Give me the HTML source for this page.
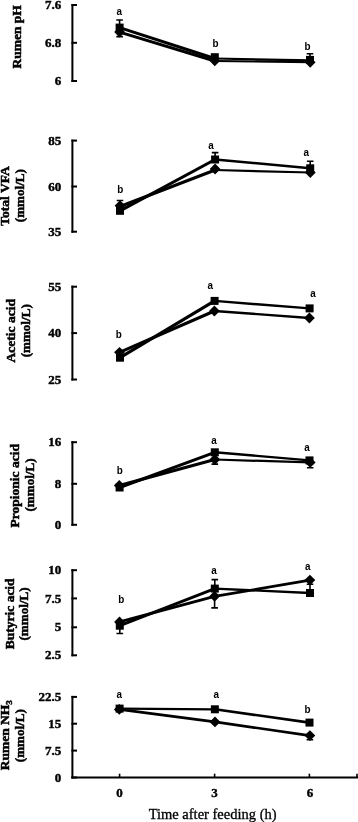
<!DOCTYPE html><html><head><meta charset="utf-8"><style>html,body{margin:0;padding:0;background:#fff;width:358px;height:822px;overflow:hidden}svg{display:block;filter:grayscale(1)}.t{font-family:"Liberation Serif",serif;font-weight:bold;font-size:13px;stroke:#000;stroke-width:0.4px}.y{font-family:"Liberation Serif",serif;font-weight:bold;font-size:13.5px;stroke:#000;stroke-width:0.5px}.l{font-family:"Liberation Sans",sans-serif;font-weight:bold;font-size:11px}.x{font-family:"Liberation Serif",serif;font-size:14.5px;stroke:#000;stroke-width:0.3px}</style></head><body>
<svg width="358" height="822" viewBox="0 0 358 822">
<rect width="358" height="822" fill="#fff"/>
<path d="M72.4 4V82" stroke="#000" stroke-width="2" fill="none"/>
<path d="M71.4 5H77" stroke="#000" stroke-width="2"/>
<text class="t" transform="translate(61.2 8.5) scale(1 1)" text-anchor="end">7.6</text>
<path d="M71.4 42.8H77" stroke="#000" stroke-width="2"/>
<text class="t" transform="translate(61.2 46.9) scale(1 1)" text-anchor="end">6.8</text>
<path d="M71.4 81H77" stroke="#000" stroke-width="2"/>
<text class="t" transform="translate(61.2 85.1) scale(1 1)" text-anchor="end">6</text>
<text class="y" transform="translate(20.8 36.9) rotate(-90) scale(1 1.0)" text-anchor="middle">Rumen pH</text>
<path d="M119.6 27.6L214.8 58.5" stroke="#000" stroke-width="2.91" stroke-linecap="round"/>
<path d="M214.8 58.5L310 60.4" stroke="#000" stroke-width="2.22" stroke-linecap="round"/>
<path d="M119.6 32.1L214.8 61" stroke="#000" stroke-width="2.89" stroke-linecap="round"/>
<path d="M214.8 61L310.2 62.1" stroke="#000" stroke-width="2.19" stroke-linecap="round"/>
<path d="M119.6 27.6V20M116.3 20H122.9" stroke="#000" stroke-width="1.6" fill="none"/>
<path d="M119.6 32.1V36.6M116.3 36.6H122.9" stroke="#000" stroke-width="1.6" fill="none"/>
<path d="M310 59.9V53.7M306.7 53.7H313.3" stroke="#000" stroke-width="1.6" fill="none"/>
<rect x="115.6" y="23.6" width="8" height="8" fill="#000"/>
<rect x="210.8" y="53.2" width="8" height="8" fill="#000"/>
<rect x="306" y="55.9" width="8" height="8" fill="#000"/>
<path d="M119.6 26.7L125 32.1L119.6 37.5L114.2 32.1Z" fill="#000"/>
<path d="M214.8 55.4L220.2 60.8L214.8 66.2L209.4 60.8Z" fill="#000"/>
<path d="M310.2 56.9L315.6 62.3L310.2 67.7L304.8 62.3Z" fill="#000"/>
<text class="l" transform="translate(119.25 14.6) scale(0.9 1.04)" text-anchor="middle">a</text>
<text class="l" transform="translate(215.4 47.3) scale(0.9 1.04)" text-anchor="middle">b</text>
<text class="l" transform="translate(307.55 49.6) scale(0.9 1.04)" text-anchor="middle">b</text>
<path d="M72.4 139.6V232.7" stroke="#000" stroke-width="2" fill="none"/>
<path d="M71.4 140.6H77" stroke="#000" stroke-width="2"/>
<text class="t" transform="translate(61.2 144.7) scale(1 1)" text-anchor="end">85</text>
<path d="M71.4 186.5H77" stroke="#000" stroke-width="2"/>
<text class="t" transform="translate(61.2 190.6) scale(1 1)" text-anchor="end">60</text>
<path d="M71.4 231.7H77" stroke="#000" stroke-width="2"/>
<text class="t" transform="translate(61.2 235.8) scale(1 1)" text-anchor="end">35</text>
<text class="y" transform="translate(9.3 196) rotate(-90) scale(1 1.0)" text-anchor="middle">Total VFA</text>
<text class="y" style="font-size:13.1px" transform="translate(24.3 195.6) rotate(-90) scale(1 1.0)" text-anchor="middle">(mmol/L)</text>
<path d="M120 210.8L215.1 159.5" stroke="#000" stroke-width="3.08" stroke-linecap="round"/>
<path d="M215.1 159.5L310.2 168.3" stroke="#000" stroke-width="2.46" stroke-linecap="round"/>
<path d="M120 206.5L215.1 170" stroke="#000" stroke-width="2.96" stroke-linecap="round"/>
<path d="M215.1 170L310.3 172.5" stroke="#000" stroke-width="2.24" stroke-linecap="round"/>
<path d="M120 205.7V200.5M116.7 200.5H123.3" stroke="#000" stroke-width="1.6" fill="none"/>
<path d="M215.1 159.5V152.6M211.8 152.6H218.4" stroke="#000" stroke-width="1.6" fill="none"/>
<path d="M310.2 168.3V161.2M306.9 161.2H313.5" stroke="#000" stroke-width="1.6" fill="none"/>
<rect x="116" y="206.8" width="8" height="8" fill="#000"/>
<rect x="211.1" y="155.5" width="8" height="8" fill="#000"/>
<rect x="306.2" y="164.3" width="8" height="8" fill="#000"/>
<path d="M120 200.3L125.4 205.7L120 211.1L114.6 205.7Z" fill="#000"/>
<path d="M215.1 163.6L220.5 169L215.1 174.4L209.7 169Z" fill="#000"/>
<path d="M310.3 167.1L315.7 172.5L310.3 177.9L304.9 172.5Z" fill="#000"/>
<text class="l" transform="translate(120.2 193) scale(0.9 1.04)" text-anchor="middle">b</text>
<text class="l" transform="translate(211 148.8) scale(0.9 1.04)" text-anchor="middle">a</text>
<text class="l" transform="translate(306.2 155.5) scale(0.9 1.04)" text-anchor="middle">a</text>
<path d="M72.4 285.7V380.5" stroke="#000" stroke-width="2" fill="none"/>
<path d="M71.4 286.7H77" stroke="#000" stroke-width="2"/>
<text class="t" transform="translate(61.2 290.8) scale(1 1)" text-anchor="end">55</text>
<path d="M71.4 333.1H77" stroke="#000" stroke-width="2"/>
<text class="t" transform="translate(61.2 337.2) scale(1 1)" text-anchor="end">40</text>
<path d="M71.4 379.5H77" stroke="#000" stroke-width="2"/>
<text class="t" transform="translate(61.2 383.6) scale(1 1)" text-anchor="end">25</text>
<text class="y" transform="translate(15.3 330.75) rotate(-90) scale(1 1.0)" text-anchor="middle">Acetic acid</text>
<text class="y" style="font-size:13.1px" transform="translate(29.9 330.8) rotate(-90) scale(1 1.0)" text-anchor="middle">(mmol/L)</text>
<path d="M120 357.7L214.6 300.9" stroke="#000" stroke-width="3.13" stroke-linecap="round"/>
<path d="M214.6 300.9L309.6 308.4" stroke="#000" stroke-width="2.41" stroke-linecap="round"/>
<path d="M119.5 352.3L214.4 311" stroke="#000" stroke-width="3" stroke-linecap="round"/>
<path d="M214.4 311L309.4 318" stroke="#000" stroke-width="2.39" stroke-linecap="round"/>
<rect x="116" y="353.7" width="8" height="8" fill="#000"/>
<rect x="210.6" y="296.9" width="8" height="8" fill="#000"/>
<rect x="305.6" y="304.4" width="8" height="8" fill="#000"/>
<path d="M119.5 346.9L124.9 352.3L119.5 357.7L114.1 352.3Z" fill="#000"/>
<path d="M214.4 305.6L219.8 311L214.4 316.4L209 311Z" fill="#000"/>
<path d="M309.4 312.6L314.8 318L309.4 323.4L304 318Z" fill="#000"/>
<text class="l" transform="translate(118.85 337.9) scale(0.9 1.04)" text-anchor="middle">b</text>
<text class="l" transform="translate(210.25 288.9) scale(0.9 1.04)" text-anchor="middle">a</text>
<text class="l" transform="translate(312.9 296.8) scale(0.9 1.04)" text-anchor="middle">a</text>
<path d="M72.4 441.2V525.8" stroke="#000" stroke-width="2" fill="none"/>
<path d="M71.4 442.2H77" stroke="#000" stroke-width="2"/>
<text class="t" transform="translate(61.2 446.3) scale(1 1)" text-anchor="end">16</text>
<path d="M71.4 483.8H77" stroke="#000" stroke-width="2"/>
<text class="t" transform="translate(61.2 487.9) scale(1 1)" text-anchor="end">8</text>
<path d="M71.4 524.8H77" stroke="#000" stroke-width="2"/>
<text class="t" transform="translate(61.2 528.9) scale(1 1)" text-anchor="end">0</text>
<text class="y" transform="translate(19.3 485.8) rotate(-90) scale(1 1.0)" text-anchor="middle">Propionic acid</text>
<text class="y" style="font-size:13.1px" transform="translate(33.9 485) rotate(-90) scale(1 1.0)" text-anchor="middle">(mmol/L)</text>
<path d="M119.6 487.5L214.8 452.3" stroke="#000" stroke-width="2.95" stroke-linecap="round"/>
<path d="M214.8 452.3L309.5 460.4" stroke="#000" stroke-width="2.43" stroke-linecap="round"/>
<path d="M119.3 485.5L214.8 459.5" stroke="#000" stroke-width="2.87" stroke-linecap="round"/>
<path d="M214.8 459.5L310.2 462.4" stroke="#000" stroke-width="2.25" stroke-linecap="round"/>
<path d="M214.8 459.5V464.1M211.5 464.1H218.1" stroke="#000" stroke-width="1.6" fill="none"/>
<path d="M310.2 462.4V467.8M306.9 467.8H313.5" stroke="#000" stroke-width="1.6" fill="none"/>
<rect x="115.6" y="483.5" width="8" height="8" fill="#000"/>
<rect x="210.8" y="448.3" width="8" height="8" fill="#000"/>
<rect x="305.5" y="456.4" width="8" height="8" fill="#000"/>
<path d="M119.3 480.1L124.7 485.5L119.3 490.9L113.9 485.5Z" fill="#000"/>
<path d="M214.8 454.1L220.2 459.5L214.8 464.9L209.4 459.5Z" fill="#000"/>
<path d="M310.2 457L315.6 462.4L310.2 467.8L304.8 462.4Z" fill="#000"/>
<text class="l" transform="translate(119.65 474.3) scale(0.9 1.04)" text-anchor="middle">b</text>
<text class="l" transform="translate(213.95 443.6) scale(0.9 1.04)" text-anchor="middle">a</text>
<text class="l" transform="translate(307.05 450.6) scale(0.9 1.04)" text-anchor="middle">a</text>
<path d="M72.4 569.2V656.3" stroke="#000" stroke-width="2" fill="none"/>
<path d="M71.4 570.2H77" stroke="#000" stroke-width="2"/>
<text class="t" transform="translate(61.2 574.3) scale(1 1)" text-anchor="end">10</text>
<path d="M71.4 598.4H77" stroke="#000" stroke-width="2"/>
<text class="t" transform="translate(61.2 602.5) scale(1 1)" text-anchor="end">7.5</text>
<path d="M71.4 627.3H77" stroke="#000" stroke-width="2"/>
<text class="t" transform="translate(61.2 631.4) scale(1 1)" text-anchor="end">5</text>
<path d="M71.4 655.3H77" stroke="#000" stroke-width="2"/>
<text class="t" transform="translate(61.2 659.4) scale(1 1)" text-anchor="end">2.5</text>
<text class="y" transform="translate(13.5 613.8) rotate(-90) scale(1 1.0)" text-anchor="middle">Butyric acid</text>
<text class="y" style="font-size:13.1px" transform="translate(28.1 614) rotate(-90) scale(1 1.0)" text-anchor="middle">(mmol/L)</text>
<path d="M119.8 625.7L214.8 588.6" stroke="#000" stroke-width="2.96" stroke-linecap="round"/>
<path d="M214.8 588.6L310 593" stroke="#000" stroke-width="2.3" stroke-linecap="round"/>
<path d="M119.5 621.9L214.6 596.3" stroke="#000" stroke-width="2.87" stroke-linecap="round"/>
<path d="M214.6 596.3L309.9 580.1" stroke="#000" stroke-width="2.71" stroke-linecap="round"/>
<path d="M119.8 625.7V633.5M116.5 633.5H123.1" stroke="#000" stroke-width="1.6" fill="none"/>
<path d="M214.8 588.6V579.6M211.5 579.6H218.1" stroke="#000" stroke-width="1.6" fill="none"/>
<path d="M214.6 596.3V607.9M211.3 607.9H217.9" stroke="#000" stroke-width="1.6" fill="none"/>
<path d="M310 593V584.2M306.7 584.2H313.3" stroke="#000" stroke-width="1.6" fill="none"/>
<rect x="115.8" y="621.7" width="8" height="8" fill="#000"/>
<rect x="210.8" y="584.6" width="8" height="8" fill="#000"/>
<rect x="306" y="589" width="8" height="8" fill="#000"/>
<path d="M119.5 616.5L124.9 621.9L119.5 627.3L114.1 621.9Z" fill="#000"/>
<path d="M214.6 590.9L220 596.3L214.6 601.7L209.2 596.3Z" fill="#000"/>
<path d="M309.9 574.7L315.3 580.1L309.9 585.5L304.5 580.1Z" fill="#000"/>
<text class="l" transform="translate(121.3 603.1) scale(0.9 1.04)" text-anchor="middle">b</text>
<text class="l" transform="translate(213.95 573.9) scale(0.9 1.04)" text-anchor="middle">a</text>
<text class="l" transform="translate(307.85 569.5) scale(0.9 1.04)" text-anchor="middle">a</text>
<path d="M72.4 695.9V778.5" stroke="#000" stroke-width="2" fill="none"/>
<path d="M71.4 696.9H77" stroke="#000" stroke-width="2"/>
<text class="t" transform="translate(61.2 701) scale(1 1)" text-anchor="end">22.5</text>
<path d="M71.4 723.7H77" stroke="#000" stroke-width="2"/>
<text class="t" transform="translate(61.2 727.8) scale(1 1)" text-anchor="end">15</text>
<path d="M71.4 750.6H77" stroke="#000" stroke-width="2"/>
<text class="t" transform="translate(61.2 754.7) scale(1 1)" text-anchor="end">7.5</text>
<path d="M71.4 777.5H77" stroke="#000" stroke-width="2"/>
<text class="t" transform="translate(61.2 781.6) scale(1 1)" text-anchor="end">0</text>
<text class="y" transform="translate(9 735.2) rotate(-90) scale(1 1.0)" text-anchor="middle">Rumen NH<tspan font-size="9" dy="3.3">3</tspan></text>
<text class="y" style="font-size:13.1px" transform="translate(24.4 735.6) rotate(-90) scale(1 1.0)" text-anchor="middle">(mmol/L)</text>
<path d="M119.6 708.6L214.85 709.3" stroke="#000" stroke-width="2.17" stroke-linecap="round"/>
<path d="M214.85 709.3L309.5 722.6" stroke="#000" stroke-width="2.61" stroke-linecap="round"/>
<path d="M119.3 709.4L215 721.9" stroke="#000" stroke-width="2.58" stroke-linecap="round"/>
<path d="M215 721.9L309.9 735.6" stroke="#000" stroke-width="2.63" stroke-linecap="round"/>
<path d="M309.9 735.6V739.7M306.6 739.7H313.2" stroke="#000" stroke-width="1.6" fill="none"/>
<rect x="115.6" y="704.6" width="8" height="8" fill="#000"/>
<rect x="210.85" y="705.3" width="8" height="8" fill="#000"/>
<rect x="305.5" y="718.6" width="8" height="8" fill="#000"/>
<path d="M119.3 704L124.7 709.4L119.3 714.8L113.9 709.4Z" fill="#000"/>
<path d="M215 716.5L220.4 721.9L215 727.3L209.6 721.9Z" fill="#000"/>
<path d="M309.9 730.2L315.3 735.6L309.9 741L304.5 735.6Z" fill="#000"/>
<text class="l" transform="translate(119.25 697.9) scale(0.9 1.04)" text-anchor="middle">a</text>
<text class="l" transform="translate(216.3 697.9) scale(0.9 1.04)" text-anchor="middle">a</text>
<text class="l" transform="translate(307.6 712.8) scale(0.9 1.04)" text-anchor="middle">b</text>
<path d="M71.4 777.5H358" stroke="#000" stroke-width="2"/>
<path d="M119.6 777.5V773.7" stroke="#000" stroke-width="1.6"/>
<path d="M214.6 777.5V773.7" stroke="#000" stroke-width="1.6"/>
<path d="M309.4 777.5V773.7" stroke="#000" stroke-width="1.6"/>
<path d="M357 777.5V773.7" stroke="#000" stroke-width="1.6"/>
<text class="t" x="119.6" y="797.4" text-anchor="middle">0</text>
<text class="t" x="214.6" y="797.4" text-anchor="middle">3</text>
<text class="t" x="309.9" y="797.4" text-anchor="middle">6</text>
<text class="x" x="212.6" y="819.1" text-anchor="middle">Time after feeding (h)</text>
</svg></body></html>
